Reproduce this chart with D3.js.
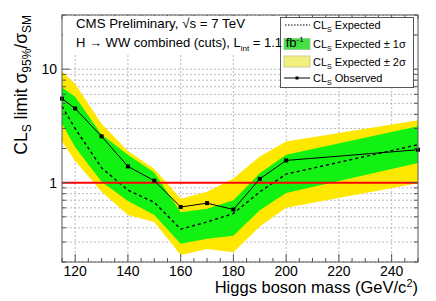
<!DOCTYPE html>
<html lang="en">
    <head>
        <meta charset="UTF-8" />
        <title>CMS H to WW limit</title>
        <script src="https://cdn.jsdelivr.net/npm/d3@7/dist/d3.min.js"></script>
        <style>
            text {
                font-family: 'Liberation Sans', Arial, sans-serif;
                fill: #000;
            }
        </style>
    </head>
    <body style="padding: 0; margin: 0; background-color: #fff;">
        <svg width="436" height="301"></svg>
        <script>
            // values
            var masses = [115, 120, 130, 140, 150, 160, 170, 180, 190, 200, 250];
            var observed = [5.5, 4.5, 2.56, 1.39, 1.04, 0.61, 0.66, 0.58, 1.08, 1.57, 1.95];
            var expected = [4.7, 3.0, 1.35, 0.86, 0.67, 0.39, 0.45, 0.535, 0.83, 1.19, 2.16];
            var oneSigmaLo = [3.3, 2.05, 1.02, 0.69, 0.52, 0.29, 0.32, 0.34, 0.57, 0.81, 1.49];
            var oneSigmaHi = [6.9, 5.7, 2.65, 1.76, 1.23, 0.55, 0.59, 0.7, 1.21, 1.76, 3.14];
            var twoSigmaLo = [2.3, 1.55, 0.83, 0.52, 0.45, 0.23, 0.26, 0.244, 0.41, 0.6, 0.99];
            var twoSigmaHi = [9.6, 7.4, 3.3, 1.9, 1.32, 0.72, 0.83, 1.09, 1.7, 2.31, 3.55];

            var xMajor = [120, 140, 160, 180, 200, 220, 240];
            var yLabels = [1, 10];

            var svg = d3.select('svg');
            // note: "top" is taken by window.top, so use other names
            var padL = 62, padR = 418, padT = 15, padB = 262;

            var x = d3.scaleLinear().domain([115, 250]).range([padL, padR]);
            var y = d3.scaleLog().domain([0.2, 30]).range([padB, padT]);

            var xMinor = d3.range(115, 251, 5);
            var yMinor = y.ticks(); // 0.2 ... 30

            var rows = masses.map(function(m, i) {
                return {
                    m: m,
                    obs: observed[i],
                    exp: expected[i],
                    lo1: oneSigmaLo[i],
                    hi1: oneSigmaHi[i],
                    lo2: twoSigmaLo[i],
                    hi2: twoSigmaHi[i]
                };
            });

            // grid
            var grid = svg.append('g')
                .attr('stroke', '#aaa')
                .attr('stroke-width', 0.8)
                .attr('stroke-dasharray', '2,2');
            grid.selectAll('.gx').data(xMajor).enter().append('line')
                .attr('x1', d => x(d)).attr('x2', d => x(d))
                .attr('y1', padT).attr('y2', padB);
            grid.selectAll('.gy').data(yMinor).enter().append('line')
                .attr('x1', padL).attr('x2', padR)
                .attr('y1', d => y(d)).attr('y2', d => y(d));

            // bands
            var band2 = d3.area().x(d => x(d.m)).y0(d => y(d.lo2)).y1(d => y(d.hi2));
            var band1 = d3.area().x(d => x(d.m)).y0(d => y(d.lo1)).y1(d => y(d.hi1));
            svg.append('path').datum(rows).attr('d', band2).attr('fill', '#ffe800');
            svg.append('path').datum(rows).attr('d', band1).attr('fill', '#12f212');

            svg.append('path').datum(rows)
                .attr('d', d3.line().x(d => x(d.m)).y(d => y(d.exp)))
                .attr('fill', 'none')
                .attr('stroke', '#000')
                .attr('stroke-width', 1.4)
                .attr('stroke-dasharray', '3,3');

            // SM line
            svg.append('line')
                .attr('x1', padL).attr('x2', padR)
                .attr('y1', y(1)).attr('y2', y(1))
                .attr('stroke', '#ff0000')
                .attr('stroke-width', 2);

            svg.append('path').datum(rows)
                .attr('d', d3.line().x(d => x(d.m)).y(d => y(d.obs)))
                .attr('fill', 'none')
                .attr('stroke', '#000')
                .attr('stroke-width', 1);
            svg.selectAll('.pt').data(rows).enter().append('rect')
                .attr('x', d => x(d.m) - 2).attr('y', d => y(d.obs) - 2)
                .attr('width', 4).attr('height', 4)
                .attr('fill', '#000');

            // frame and ticks on all four sides
            var ax = svg.append('g').attr('stroke', '#555').attr('stroke-width', 1);
            ax.append('rect')
                .attr('x', padL).attr('y', padT)
                .attr('width', padR - padL).attr('height', padB - padT)
                .attr('fill', 'none');
            xMinor.forEach(function(v) {
                var len = xMajor.indexOf(v) >= 0 ? 8 : 4;
                ax.append('line').attr('x1', x(v)).attr('x2', x(v)).attr('y1', padB).attr('y2', padB - len);
                ax.append('line').attr('x1', x(v)).attr('x2', x(v)).attr('y1', padT).attr('y2', padT + len);
            });
            yMinor.forEach(function(v) {
                var len = yLabels.indexOf(v) >= 0 ? 8 : 4;
                ax.append('line').attr('y1', y(v)).attr('y2', y(v)).attr('x1', padL).attr('x2', padL + len);
                ax.append('line').attr('y1', y(v)).attr('y2', y(v)).attr('x1', padR).attr('x2', padR - len);
            });

            // tick labels
            svg.selectAll('.xl').data(xMajor).enter().append('text')
                .attr('x', d => x(d)).attr('y', 276)
                .attr('text-anchor', 'middle')
                .attr('font-size', 14)
                .text(d => d);
            svg.selectAll('.yl').data(yLabels).enter().append('text')
                .attr('x', 57).attr('y', d => y(d) + 5)
                .attr('text-anchor', 'end')
                .attr('font-size', 14)
                .text(d => d);

            // axis titles
            var xt = svg.append('text')
                .attr('x', padR).attr('y', 293)
                .attr('text-anchor', 'end')
                .attr('font-size', 16.5);
            xt.append('tspan').text('Higgs boson mass (GeV/c');
            xt.append('tspan').attr('font-size', 11).attr('dy', -6).text('2');
            xt.append('tspan').attr('dy', 6).text(')');

            var yt = svg.append('text')
                .attr('transform', 'translate(27,' + padT + ') rotate(-90)')
                .attr('text-anchor', 'end')
                .attr('font-size', 17.5);
            yt.append('tspan').text('CL');
            yt.append('tspan').attr('font-size', 12).attr('dy', 4).text('S');
            yt.append('tspan').attr('dy', -4).text(' limit σ');
            yt.append('tspan').attr('font-size', 12).attr('dy', 4).text('95%');
            yt.append('tspan').attr('dy', -4).text('/σ');
            yt.append('tspan').attr('font-size', 12).attr('dy', 4).text('SM');

            // white area behind the header text
            svg.append('rect')
                .attr('x', padL + 1).attr('y', padT + 1)
                .attr('width', 217).attr('height', 39)
                .attr('fill', '#fff');

            // legend
            var lg = svg.append('g');
            lg.append('rect')
                .attr('x', 280.5).attr('y', 17.5)
                .attr('width', 133).attr('height', 70)
                .attr('fill', '#fff')
                .attr('stroke', '#555');
            lg.append('line')
                .attr('x1', 285).attr('x2', 310).attr('y1', 25).attr('y2', 25)
                .attr('stroke', '#000').attr('stroke-dasharray', '1.5,1.5');
            lg.append('rect')
                .attr('x', 284).attr('y', 38.5).attr('width', 26).attr('height', 11)
                .attr('fill', '#44e044').attr('stroke', '#9c9');
            lg.append('rect')
                .attr('x', 284).attr('y', 56).attr('width', 26).attr('height', 11)
                .attr('fill', '#f2f07c').attr('stroke', '#cc9');
            lg.append('line')
                .attr('x1', 284).attr('x2', 310).attr('y1', 78).attr('y2', 78)
                .attr('stroke', '#000');
            lg.append('rect')
                .attr('x', 295.5).attr('y', 76.5).attr('width', 3).attr('height', 3)
                .attr('fill', '#000');

            var legendText = ['Expected', 'Expected \u00b1 1\u03c3', 'Expected \u00b1 2\u03c3', 'Observed'];
            var legendY = [29, 47.5, 65.5, 81.5];
            legendText.forEach(function(t, i) {
                var tx = lg.append('text')
                    .attr('x', 313).attr('y', legendY[i])
                    .attr('font-size', 11);
                tx.append('tspan').text('CL');
                tx.append('tspan').attr('font-size', 7).attr('dy', 3).text('S');
                tx.append('tspan').attr('dy', -3).text(' ' + t);
            });

            // header text
            svg.append('text')
                .attr('x', 76).attr('y', 28)
                .attr('font-size', 13.3)
                .text('CMS Preliminary, \u221as = 7 TeV');
            var h2 = svg.append('text')
                .attr('x', 76).attr('y', 46.5)
                .attr('font-size', 13);
            h2.append('tspan').text('H \u2192 WW combined (cuts), L');
            h2.append('tspan').attr('font-size', 8).attr('dy', 4).text('int');
            h2.append('tspan').attr('dy', -4).text(' = 1.1 fb');
            h2.append('tspan').attr('font-size', 8).attr('dy', -5).text('-1');
        </script>
    </body>
</html>
